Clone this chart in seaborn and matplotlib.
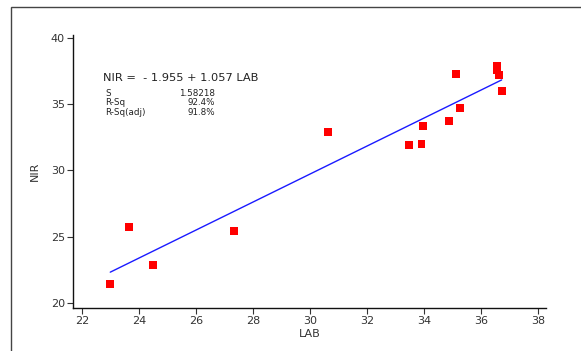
import matplotlib
matplotlib.use("Agg")
import matplotlib.pyplot as plt
import seaborn as sns
import pandas as pd
from matplotlib.patches import Rectangle

lab = [23.0, 23.66, 24.51, 27.35, 30.65, 33.47, 33.92, 33.97, 34.88, 35.12, 35.27,
       36.57, 36.56, 36.63, 36.73]
nir = [21.4, 25.74, 22.87, 25.4, 32.9, 31.9, 31.97, 33.36, 33.72, 37.28, 34.72,
       37.9, 37.6, 37.2, 36.0]
equation = "NIR =  - 1.955 + 1.057 LAB"
stat_names = ["S", "R-Sq", "R-Sq(adj)"]
stat_values = ["1.58218", "92.4%", "91.8%"]
x_ticks = [22, 24, 26, 28, 30, 32, 34, 36, 38]
y_ticks = [20, 25, 30, 35, 40]

df = pd.DataFrame({"LAB": lab, "NIR": nir})

sns.set_style("ticks")
plt.rcParams['font.family'] = ['DejaVu Sans']

fig = plt.figure(figsize=(5.81, 3.51), dpi=100)
ax = fig.add_axes([0.126, 0.1225, 0.814, 0.778])

sns.regplot(data=df, x="LAB", y="NIR", ci=None, ax=ax, marker="s",
            scatter_kws=dict(s=32, color="#ff0000", edgecolors="none", alpha=1, zorder=3),
            line_kws=dict(color="#1a1aff", lw=1.0, zorder=2))

ax.set_xlim(21.7, 38.29)
ax.set_ylim(19.62, 40.23)
ax.set_xticks(x_ticks)
ax.set_yticks(y_ticks)
ax.tick_params(axis="both", labelsize=8, colors="#333333", length=4, width=0.8, pad=2)
for s in ["left", "bottom"]:
    ax.spines[s].set_linewidth(1.0)
    ax.spines[s].set_color("#111111")
sns.despine(ax=ax)
ax.set_xlabel("LAB", fontsize=8, color="#333333", labelpad=2)
ax.set_ylabel("NIR", fontsize=8, color="#333333", labelpad=8)

def fx(px):
    return px / 581.0
def fy(py):
    return 1 - py / 351.0

fig.text(fx(103), fy(78), equation, fontsize=8.2, color="#222222", va="center", ha="left")
ys = [94, 103, 112]
for name, val, yy in zip(stat_names, stat_values, ys):
    fig.text(fx(105), fy(yy), name, fontsize=6.3, color="#222222", va="center", ha="left")
    fig.text(fx(215), fy(yy), val, fontsize=6.3, color="#222222", va="center", ha="right")

fig.add_artist(Rectangle((fx(11), -0.2), 1.2, fy(7) + 0.2, transform=fig.transFigure,
                         fill=False, edgecolor="#444444", lw=1.0))

fig.savefig("out.png", dpi=100)
